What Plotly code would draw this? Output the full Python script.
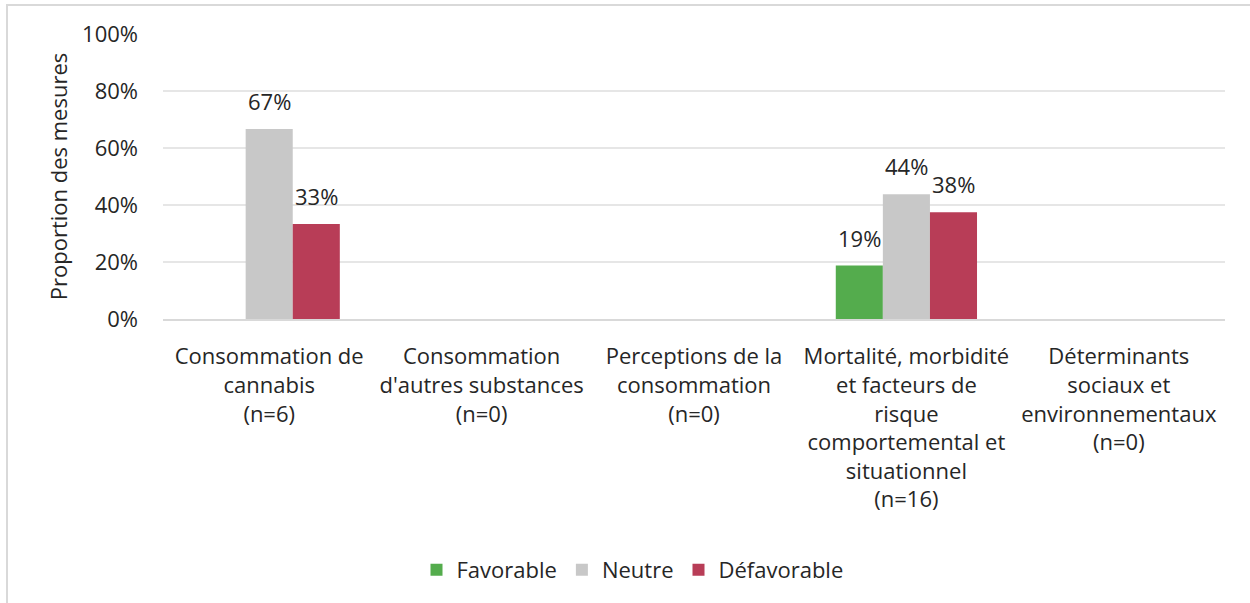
import plotly.graph_objects as go

categories = [
    "Consommation de<br>cannabis<br>(n=6)",
    "Consommation<br>d'autres substances<br>(n=0)",
    "Perceptions de la<br>consommation<br>(n=0)",
    "Mortalité, morbidité<br>et facteurs de<br>risque<br>comportemental et<br>situationnel<br>(n=16)",
    "Déterminants<br>sociaux et<br>environnementaux<br>(n=0)",
]
favorable = [0, 0, 0, 18.75, 0]
neutre = [66.67, 0, 0, 43.75, 0]
defavorable = [33.33, 0, 0, 37.5, 0]
series_names = ["Favorable", "Neutre", "Défavorable"]
colors = ["#54ac4d", "#c8c8c8", "#b83d57"]
y_ticks = [0, 20, 40, 60, 80, 100]
y_ticktext = [f"{v}%" for v in y_ticks]

FONT = "Open Sans"
FS = 22
TXT = "#262626"
fig = go.Figure()
series = [favorable, neutre, defavorable]
for name, vals, col in zip(series_names, series, colors):
    fig.add_trace(go.Bar(
        x=categories, y=vals, name=name, marker_color=col,
        marker_line_width=0,
    ))

# data labels (only non-zero values), placed as annotations
bar_px = 47
for i, vals in enumerate(series):
    for cat, v in zip(categories, vals):
        if v > 0:
            fig.add_annotation(
                x=cat, y=v, text=f"{round(v):d}%", showarrow=False,
                xshift=(i - 1) * bar_px, yshift=11, yanchor="bottom",
                font=dict(family=FONT, size=FS, color=TXT),
            )

fig.add_shape(type="rect", xref="paper", yref="paper",
              x0=-0.1469, x1=1.05, y0=-1.2, y1=1.1018,
              line=dict(color="#d9d9d9", width=2), fillcolor="rgba(0,0,0,0)", layer="below")

fig.update_layout(
    width=1250, height=603,
    margin=dict(l=163, r=25, t=34, b=284),
    paper_bgcolor="white", plot_bgcolor="white",
    barmode="group", bargap=0.335, bargroupgap=0,
    font=dict(family=FONT, size=FS, color=TXT),
    showlegend=True,
    legend=dict(orientation="h", xref="container", x=0.506, xanchor="center",
                yref="container", y=0.055, yanchor="middle",
                font=dict(family=FONT, size=FS, color=TXT), traceorder="normal"),
    xaxis=dict(showgrid=False, showline=True, linecolor="#d9d9d9", linewidth=2,
               ticks="", ticklabelstandoff=17, tickangle=0,
               tickfont=dict(family=FONT, size=FS, color=TXT)),
    yaxis=dict(range=[0, 100], tickvals=y_ticks, ticktext=y_ticktext,
               showgrid=True, gridcolor="#e6e6e6", gridwidth=1.5,
               zeroline=False, showline=False, ticks="", ticklabelstandoff=24,
               title=dict(text="Proportion des mesures", standoff=8,
                          font=dict(family=FONT, size=FS, color=TXT)),
               tickfont=dict(family=FONT, size=FS, color=TXT)),
)
fig.write_html("out.html", config={"displayModeBar": False},
               post_script="document.body.style.margin='0';")
